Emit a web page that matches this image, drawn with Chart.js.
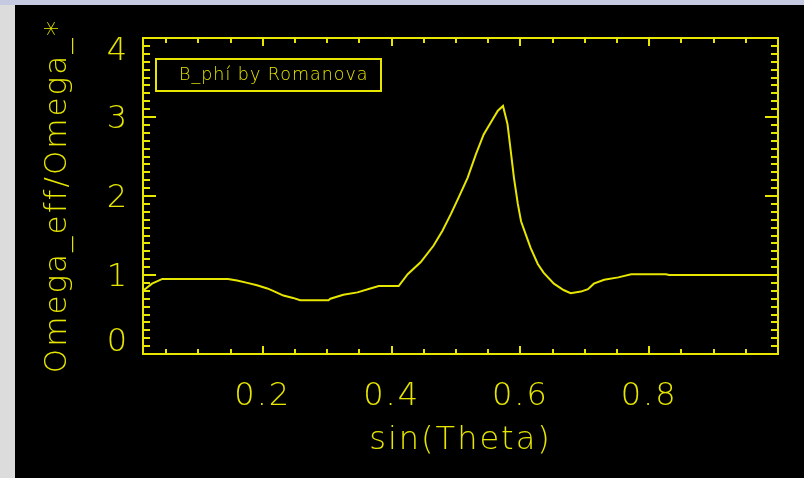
<!DOCTYPE html>
<html>
<head>
<meta charset="utf-8">
<script src="https://cdn.jsdelivr.net/npm/chart.js@4"></script>
<style>
  html, body { margin: 0; padding: 0; }
  body { width: 804px; height: 478px; background: #dcdcdc; position: relative; overflow: hidden; }
  #barra { position: absolute; left: 0; top: 0; width: 804px; height: 5px; background: #c6cae0; }
  #marco { position: absolute; left: 15px; top: 5px; width: 789px; height: 473px; background: #000; }
</style>
</head>
<body>
<div id="barra"></div>
<div id="marco"><canvas id="grafico"></canvas></div>
<script>
// sin(Theta) y Omega_eff/Omega_* para B_phi (Romanova)
const senoTheta = [
  0.014, 0.028, 0.044, 0.146, 0.160, 0.176, 0.191, 0.207, 0.216, 0.232,
  0.247, 0.258, 0.302, 0.305, 0.325, 0.347, 0.367, 0.380, 0.411, 0.425,
  0.445, 0.465, 0.479, 0.492, 0.504, 0.518, 0.531, 0.543, 0.554, 0.565,
  0.573, 0.580, 0.585, 0.590, 0.596, 0.601, 0.608, 0.616, 0.627, 0.636,
  0.652, 0.667, 0.678, 0.694, 0.705, 0.714, 0.730, 0.752, 0.772, 0.826,
  0.831, 1.000
];
const omegaEff = [
  0.80, 0.89, 0.95, 0.95, 0.93, 0.90, 0.87, 0.83, 0.80, 0.74,
  0.71, 0.68, 0.68, 0.70, 0.75, 0.78, 0.83, 0.86, 0.86, 1.01,
  1.16, 1.37, 1.56, 1.77, 1.98, 2.23, 2.53, 2.78, 2.93, 3.08,
  3.14, 2.91, 2.57, 2.23, 1.90, 1.68, 1.52, 1.34, 1.14, 1.03,
  0.89, 0.81, 0.77, 0.79, 0.82, 0.89, 0.94, 0.97, 1.01, 1.01,
  1.00, 1.00
];
const ticksX = [0.2, 0.4, 0.6, 0.8];
const ticksY = [0, 1, 2, 3, 4];
const leyenda = "B_phí by Romanova";

const AMARILLO = "#e6e600";
const FUENTE = "'DejaVu Sans', sans-serif";
const PESO = 200;

// ejes tipo IDL: caja cerrada con marcas hacia dentro en los cuatro lados
const ejesIDL = {
  id: "ejesIDL",
  beforeDraw(chart) {
    chart.ctx.letterSpacing = "2px";
  },
  afterDraw(chart) {
    const ctx = chart.ctx;
    const a = chart.chartArea;
    const sx = chart.scales.x, sy = chart.scales.y;
    ctx.save();
    ctx.strokeStyle = AMARILLO;
    ctx.fillStyle = AMARILLO;
    ctx.lineWidth = 2;
    ctx.strokeRect(a.left, a.top, a.right - a.left, a.bottom - a.top);

    ctx.beginPath();
    // marcas en x cada 0.05, mayores cada 0.2
    for (let i = 1; i * 0.05 <= sx.max + 1e-9; i++) {
      const v = i * 0.05;
      if (v < sx.min) continue;
      const px = Math.round(sx.getPixelForValue(v));
      const mayor = i % 4 === 0;
      const len = mayor ? 8 : 5;
      ctx.moveTo(px, a.bottom); ctx.lineTo(px, a.bottom - len);
      ctx.moveTo(px, a.top); ctx.lineTo(px, a.top + len);
    }
    // marcas en y cada 0.1, mayores en cada entero
    for (let i = 1; i < 40; i++) {
      const py = Math.round(sy.getPixelForValue(i * 0.1));
      const len = i % 10 === 0 ? 13 : 7;
      ctx.moveTo(a.left, py); ctx.lineTo(a.left + len, py);
      ctx.moveTo(a.right, py); ctx.lineTo(a.right - len, py);
    }
    ctx.stroke();

    // etiquetas de y, sujetas dentro del rango del eje
    ctx.font = PESO + " 32px " + FUENTE;
    ctx.letterSpacing = "2px";
    ctx.textAlign = "right";
    ctx.textBaseline = "middle";
    ticksY.forEach(v => {
      let py = sy.getPixelForValue(v);
      py = Math.min(Math.max(py, a.top + 11), a.bottom - 14) + 3;
      ctx.fillText(String(v), a.left - 14, py);
    });

    // recuadro de la leyenda
    ctx.strokeRect(a.left + 13, a.top + 21, 225, 32);
    ctx.font = PESO + " 17.5px " + FUENTE;
    ctx.letterSpacing = "1px";
    ctx.textAlign = "left";
    ctx.fillText(leyenda, a.left + 36, a.top + 37);
    ctx.restore();
  }
};

const puntos = senoTheta.map((s, i) => ({ x: s, y: omegaEff[i] }));

new Chart(document.getElementById("grafico"), {
  type: "line",
  data: {
    datasets: [{
      label: leyenda,
      data: puntos,
      borderColor: AMARILLO,
      borderWidth: 2,
      pointRadius: 0,
      tension: 0,
      fill: false
    }]
  },
  options: {
    responsive: true,
    maintainAspectRatio: false,
    animation: false,
    layout: { padding: { top: 33, right: 26, left: 0, bottom: 0 } },
    plugins: {
      legend: { display: false },
      tooltip: { enabled: false }
    },
    scales: {
      x: {
        type: "linear",
        min: 0.014,
        max: 1.0,
        afterBuildTicks: s => { s.ticks = ticksX.map(v => ({ value: v })); },
        afterFit: s => { s.height = 124; },
        grid: { display: false, drawTicks: false },
        border: { display: false },
        ticks: {
          color: AMARILLO,
          font: { family: FUENTE, size: 32, weight: PESO },
          padding: 23,
          maxRotation: 0,
          callback: v => v.toFixed(1)
        },
        title: {
          display: true,
          text: "sin(Theta)",
          color: AMARILLO,
          font: { family: FUENTE, size: 32, weight: PESO },
          padding: { top: 0, bottom: 18 }
        }
      },
      y: {
        min: 0,
        max: 4,
        afterFit: s => { s.width = 128; },
        grid: { display: false, drawTicks: false },
        border: { display: false },
        ticks: { display: false },
        title: {
          display: true,
          text: "Omega_eff/Omega_*",
          color: AMARILLO,
          font: { family: FUENTE, size: 31, weight: PESO },
          padding: { top: 24, bottom: 0 }
        }
      }
    }
  },
  plugins: [ejesIDL]
});
</script>
</body>
</html>
